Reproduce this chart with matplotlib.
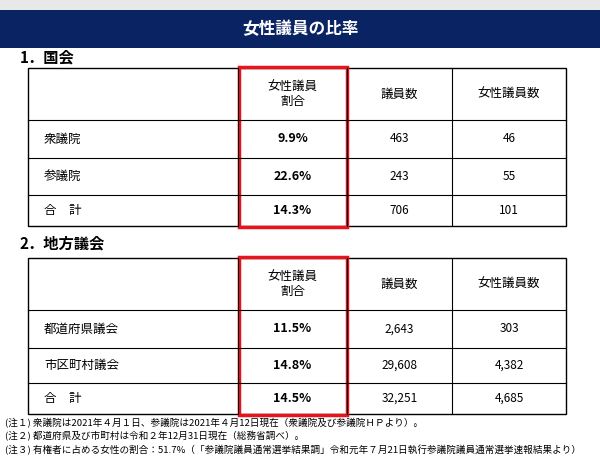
import matplotlib
matplotlib.use("Agg")
import matplotlib.pyplot as plt
from matplotlib.patches import Rectangle

plt.rcParams["font.family"] = "Noto Sans CJK JP"

title = "女性議員の比率"
col_headers = ["女性議員\n割合", "議員数", "女性議員数"]
sec1 = "1．国会"
rows1 = ["衆議院", "参議院", "合　計"]
ratio1 = ["9.9%", "22.6%", "14.3%"]
members1 = ["463", "243", "706"]
women1 = ["46", "55", "101"]
sec2 = "2．地方議会"
rows2 = ["都道府県議会", "市区町村議会", "合　計"]
ratio2 = ["11.5%", "14.8%", "14.5%"]
members2 = ["2,643", "29,608", "32,251"]
women2 = ["303", "4,382", "4,685"]
notes = [
    "(注１) 衆議院は2021年４月１日、参議院は2021年４月12日現在（衆議院及び参議院ＨＰより）。",
    "(注２) 都道府県及び市町村は令和２年12月31日現在（総務省調べ）。",
    "(注３) 有権者に占める女性の割合：51.7%（「参議院議員通常選挙結果調」令和元年７月21日執行参議院議員通常選挙速報結果より）",
]

fig = plt.figure(figsize=(6, 4.58), dpi=100)
ax = fig.add_axes([0, 0, 1, 1])
ax.set_xlim(0, 600)
ax.set_ylim(458, 0)
ax.axis("off")

ax.add_patch(Rectangle((0, 0), 600, 10, color="#e8e8e8", lw=0))
ax.add_patch(Rectangle((0, 10), 600, 38, color="#0a2463", lw=0))
ax.text(300, 29, title, color="white", fontsize=12, fontweight="bold", ha="center", va="center")

xs = [28, 238, 347, 452, 566]
col_cx = [(xs[i] + xs[i + 1]) / 2 for i in range(1, 4)]

def table(ys, rows, ratio, members, women, sec, sec_y):
    ax.text(20, sec_y, sec, fontsize=11, fontweight="bold", va="center")
    y0, y1 = ys[0], ys[-1]
    ax.add_patch(Rectangle((xs[0], y0), xs[-1] - xs[0], y1 - y0, fill=False, lw=1, ec="black"))
    for y in ys[1:-1]:
        ax.plot([xs[0], xs[-1]], [y, y], color="black", lw=0.8)
    for x in xs[1:-1]:
        ax.plot([x, x], [y0, y1], color="black", lw=0.8)
    hy = (ys[0] + ys[1]) / 2
    for cx, h in zip(col_cx, col_headers):
        ax.text(cx, hy, h, fontsize=9, ha="center", va="center", linespacing=1.1)
    for i, name in enumerate(rows):
        cy = (ys[i + 1] + ys[i + 2]) / 2
        ax.text(xs[0] + 16, cy, name, fontsize=9, va="center")
        ax.text(col_cx[0], cy, ratio[i], fontsize=9, fontweight="bold", ha="center", va="center")
        ax.text(col_cx[1], cy, members[i], fontsize=8.5, ha="center", va="center")
        ax.text(col_cx[2], cy, women[i], fontsize=8.5, ha="center", va="center")
    ax.add_patch(Rectangle((xs[1] + 1, y0 - 1), xs[2] - xs[1] - 1, y1 - y0 + 2, fill=False, lw=2.5, ec="#e8141c"))

table([68, 120, 158, 195, 226], rows1, ratio1, members1, women1, sec1, 57)
table([258, 310, 348, 383, 414], rows2, ratio2, members2, women2, sec2, 243)

for i, n in enumerate(notes):
    ax.text(5, 423 + i * 13.5, n, fontsize=6.9, va="center")

fig.savefig("out.png", dpi=100)
